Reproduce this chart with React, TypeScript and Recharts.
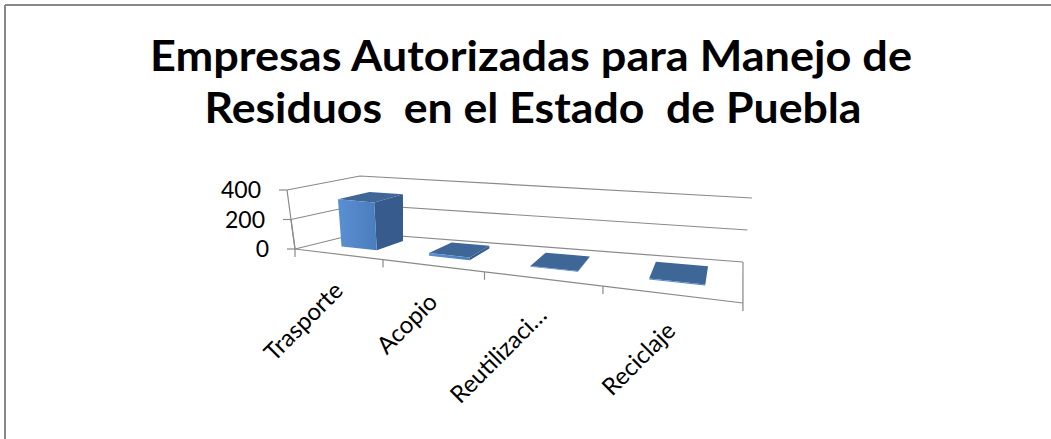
import { BarChart, Bar, XAxis, YAxis, CartesianGrid } from 'recharts';

const CATEGORIES = ['Trasporte', 'Acopio', 'Reutilizaci…', 'Reciclaje'];
const EMPRESAS = [320, 18, 4, 6];
const Y_TICKS = [0, 200, 400];
const Y_MAX = 400;

const data = CATEGORIES.map((name, i) => ({ name, value: EMPRESAS[i] }));

// flat plot area that recharts lays out; it gets projected into the 3D box below
const PL = 100;
const PT = 40;
const PW = 800;
const PH = 300;
const W = 1051;
const H = 439;

const GRID = '#8a8a8a';
const FONT = 'Lato, "Open Sans", sans-serif';

const lerp = (a: number, b: number, t: number) => a + (b - a) * t;

// u: along categories (0..1), d: depth (0 front, 1 back), f: value fraction (0..1)
function proj(u: number, d: number, f: number): [number, number] {
  const xf = (295 + 249.8 * u) / (1 - 0.2667 * u);
  const t = (xf - 295) / 448;
  const yf = 249 + 54 * t;
  const bx = xf + d * 65 * (1 - t);
  const by = yf + d * (-16 - 25 * t);
  const h = lerp(lerp(59, 70, t), lerp(57, 64, t), d);
  const drift = lerp(lerp(-8, 10, t), lerp(0, 9, t), d);
  return [bx + f * drift, by - f * h];
}

const pts = (list: [number, number][]) => list.map((p) => p.join(',')).join(' ');
const toU = (x: number) => (x - PL) / PW;
const toF = (y: number) => (PT + PH - y) / PH;

function Box3D(props: any) {
  const { x, y, width, height, index } = props;
  const u0 = toU(x) + 0.006;
  const u1 = toU(x + width) + 0.006;
  const f1 = toF(y);
  const f0 = toF(y + height);
  const d0 = 0.33;
  const d1 = 0.8;
  const id = `front-${index}`;
  const front = [proj(u0, d0, f0), proj(u1, d0, f0), proj(u1, d0, f1), proj(u0, d0, f1)];
  const side = [proj(u1, d0, f0), proj(u1, d1, f0), proj(u1, d1, f1), proj(u1, d0, f1)];
  const top = [proj(u0, d0, f1), proj(u1, d0, f1), proj(u1, d1, f1), proj(u0, d1, f1)];
  return (
    <g>
      <defs>
        <linearGradient id={id} x1="0" y1="0" x2="1" y2="0">
          <stop offset="0%" stopColor="#5a8fd3" />
          <stop offset="100%" stopColor="#4a7dbd" />
        </linearGradient>
      </defs>
      <polygon points={pts(side)} fill="#375b8c" />
      <polygon points={pts(top)} fill="#3e6697" />
      <polygon points={pts(front)} fill={`url(#${id})`} />
    </g>
  );
}

function GridLine(props: any) {
  const f = toF(props.y1);
  const a = proj(0, 0, f);
  const b = proj(0, 1, f);
  const c = proj(1, 1, f);
  const o = proj(0, 0, 0);
  return (
    <g key={`gl-${props.index}`}>
      <polyline points={pts([a, b, c])} fill="none" stroke={GRID} strokeWidth={1.2} />
      <line x1={o[0]} y1={o[1]} x2={a[0]} y2={a[1]} stroke={GRID} strokeWidth={1.2} />
    </g>
  );
}

function YTick(props: any) {
  const f = toF(props.y);
  const [ax, ay] = proj(0, 0, f);
  return (
    <g>
      <line x1={ax - 8} y1={ay} x2={ax} y2={ay} stroke={GRID} strokeWidth={1.2} />
      <text x={ax - 26} y={ay} dy="0.36em" textAnchor="end" fontSize={23} fontFamily={FONT} fill="#000">
        {props.payload.value}
      </text>
    </g>
  );
}

function XTick(props: any) {
  const n = CATEGORIES.length;
  const i = props.index;
  const uc = toU(props.x);
  const ua = i / n;
  const ub = (i + 1) / n;
  const [cx, cy] = proj(uc, 0, 0);
  const s = proj(ua, 0, 0);
  const e = proj(ub, 0, 0);
  const back = proj(1, 1, 0);
  const lx = cx + 7;
  const ly = cy + 38;
  return (
    <g>
      <line x1={s[0]} y1={s[1]} x2={e[0]} y2={e[1]} stroke={GRID} strokeWidth={1.2} />
      <line x1={s[0]} y1={s[1]} x2={s[0]} y2={s[1] + 8} stroke={GRID} strokeWidth={1.2} />
      {i === n - 1 && (
        <line x1={e[0]} y1={e[1] + 8} x2={back[0]} y2={back[1]} stroke={GRID} strokeWidth={1.2} />
      )}
      <text
        x={lx}
        y={ly}
        textAnchor="end"
        fontSize={24}
        fontFamily={FONT}
        fill="#000"
        transform={`rotate(-45 ${lx} ${ly})`}
      >
        {props.payload.value}
      </text>
    </g>
  );
}

export default function App() {
  return (
    <div style={{ position: 'absolute', left: 0, top: 0, width: W, height: H, background: '#fff' }}>
      <BarChart
        width={W}
        height={H}
        data={data}
        margin={{ top: PT, right: W - PL - PW, bottom: H - PT - PH - 30, left: 0 }}
        barCategoryGap="29%"
      >
        <CartesianGrid vertical={false} horizontal={(p: any) => <GridLine {...p} />} />
        <XAxis dataKey="name" height={30} interval={0} axisLine={false} tickLine={false} tick={(p: any) => <XTick {...p} />} />
        <YAxis
          width={PL}
          domain={[0, Y_MAX]}
          ticks={Y_TICKS}
          axisLine={false}
          tickLine={false}
          tick={(p: any) => <YTick {...p} />}
        />
        <Bar dataKey="value" isAnimationActive={false} shape={(p: any) => <Box3D {...p} />} />
      </BarChart>
      <svg width={W} height={H} style={{ position: 'absolute', left: 0, top: 0, pointerEvents: 'none' }}>
        <line x1={5} y1={5} x2={W} y2={5} stroke="#888" strokeWidth={2} />
        <line x1={5} y1={5} x2={5} y2={H} stroke="#888" strokeWidth={2} />
        <text
          x={531}
          y={71}
          textAnchor="middle"
          fontSize={42}
          fontWeight="bold"
          fontFamily={FONT}
          fill="#000"
          textLength={762}
          lengthAdjust="spacingAndGlyphs"
        >
          Empresas Autorizadas para Manejo de
        </text>
        <text
          x={533}
          y={123}
          textAnchor="middle"
          fontSize={42}
          fontWeight="bold"
          fontFamily={FONT}
          fill="#000"
          textLength={657}
          lengthAdjust="spacingAndGlyphs"
          style={{ whiteSpace: 'pre' }}
        >
          {'Residuos  en el Estado  de Puebla'}
        </text>
      </svg>
    </div>
  );
}
